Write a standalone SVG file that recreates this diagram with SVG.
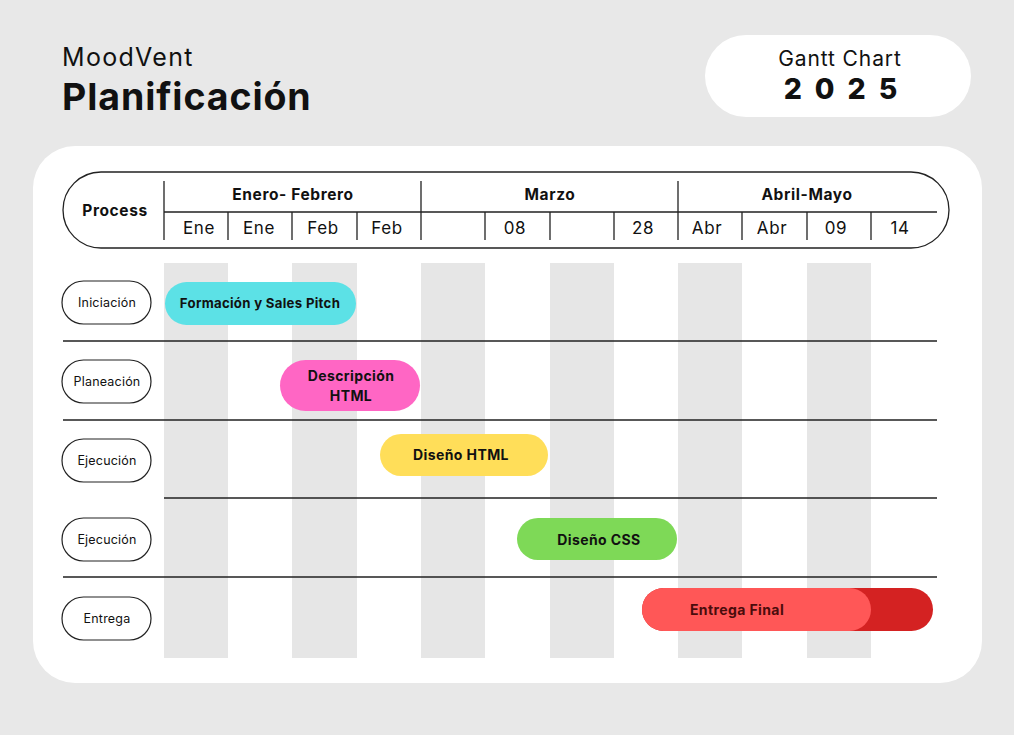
<svg xmlns="http://www.w3.org/2000/svg" width="1014" height="735" viewBox="0 0 1014 735">
<style>
text{font-family:Inter,"Open Sans","Liberation Sans",sans-serif;fill:#111}
.ln{stroke:#222;stroke-width:1.3;fill:none}
.stripe{fill:#e6e6e6}
.lbl{fill:#fff;stroke:#222;stroke-width:1.2}
.lt{font-size:12.5px;text-anchor:middle;letter-spacing:0.2px}
.sub{font-size:17px;text-anchor:middle;letter-spacing:0.6px}
.grp{font-size:15.5px;font-weight:700;text-anchor:middle;letter-spacing:0.6px}
.bt{font-size:14px;font-weight:700;text-anchor:middle;letter-spacing:0.4px}
</style>
<rect width="1014" height="735" fill="#e8e8e8"/>
<rect x="33" y="146" width="949" height="537" rx="42" fill="#fff"/>
<g id="title">
<text x="62" y="66" font-size="25" letter-spacing="1.3">MoodVent</text>
<text x="62" y="110" font-size="37.5" font-weight="700" letter-spacing="0.9">Planificación</text>
</g>
<g id="badge">
<rect x="705" y="35" width="266" height="82" rx="41" fill="#fff"/>
<text x="840" y="66" font-size="21" text-anchor="middle" letter-spacing="0.9">Gantt Chart</text>
<text x="847" y="99" font-size="28.5" font-weight="800" text-anchor="middle" letter-spacing="13">2025</text>
</g>
<g id="stripes">
<rect class="stripe" x="164" y="263" width="64" height="395"/>
<rect class="stripe" x="292" y="263" width="65" height="395"/>
<rect class="stripe" x="421" y="263" width="64" height="395"/>
<rect class="stripe" x="550" y="263" width="64" height="395"/>
<rect class="stripe" x="678" y="263" width="64" height="395"/>
<rect class="stripe" x="807" y="263" width="64" height="395"/>
</g>
<g id="header">
<rect x="63" y="172" width="886" height="76" rx="38" class="ln"/>
<path class="ln" d="M164 181V240M421 181V240M678 181V240M164 212H937M228 212V240M292 212V240M357 212V240M485 212V240M550 212V240M614 212V240M742 212V240M807 212V240M871 212V240"/>
<text x="115" y="216" font-size="15.5" font-weight="700" text-anchor="middle" letter-spacing="0.6">Process</text>
<text class="grp" x="293" y="200">Enero- Febrero</text>
<text class="grp" x="550" y="200">Marzo</text>
<text class="grp" x="807" y="200">Abril-Mayo</text>
<text class="sub" x="199" y="234">Ene</text>
<text class="sub" x="259" y="234">Ene</text>
<text class="sub" x="323" y="234">Feb</text>
<text class="sub" x="387" y="234">Feb</text>
<text class="sub" x="515" y="234">08</text>
<text class="sub" x="643" y="234">28</text>
<text class="sub" x="707" y="234">Abr</text>
<text class="sub" x="772" y="234">Abr</text>
<text class="sub" x="836" y="234">09</text>
<text class="sub" x="900" y="234">14</text>
</g>
<g id="connectors">
<path class="ln" d="M63 341H937M63 420H937M164 498H937M63 577H937"/>
</g>
<g id="row-iniciacion">
<rect class="lbl" x="62" y="281" width="89" height="43" rx="21.5"/>
<text class="lt" x="107" y="307">Iniciación</text>
</g>
<g id="row-planeacion">
<rect class="lbl" x="62" y="360" width="89" height="43" rx="21.5"/>
<text class="lt" x="107" y="386">Planeación</text>
</g>
<g id="row-ejecucion1">
<rect class="lbl" x="62" y="439" width="89" height="43" rx="21.5"/>
<text class="lt" x="107" y="465">Ejecución</text>
</g>
<g id="row-ejecucion2">
<rect class="lbl" x="62" y="518" width="89" height="43" rx="21.5"/>
<text class="lt" x="107" y="544">Ejecución</text>
</g>
<g id="row-entrega">
<rect class="lbl" x="62" y="597" width="89" height="43" rx="21.5"/>
<text class="lt" x="107" y="623">Entrega</text>
</g>
<g id="bar-formacion">
<rect x="165" y="282" width="191" height="43" rx="21.5" fill="#5ce1e6"/>
<text class="bt" x="260" y="308" style="font-size:13.2px;letter-spacing:0.3px">Formación y Sales Pitch</text>
</g>
<g id="bar-descripcion">
<rect x="280" y="360" width="140" height="51" rx="25.5" fill="#ff66c4"/>
<text class="bt" x="351" y="381">Descripción</text>
<text class="bt" x="351" y="401">HTML</text>
</g>
<g id="bar-disenohtml">
<rect x="380" y="434" width="168" height="42" rx="21" fill="#ffde59"/>
<text class="bt" x="461" y="460">Diseño HTML</text>
</g>
<g id="bar-disenocss">
<rect x="517" y="518" width="160" height="42" rx="21" fill="#7ed957"/>
<text class="bt" x="599" y="545">Diseño CSS</text>
</g>
<g id="bar-entrega">
<rect x="642" y="588" width="291" height="43" rx="21.5" fill="#d42222"/>
<rect x="642" y="588" width="229" height="43" rx="21.5" fill="#ff5757"/>
<text class="bt" x="737" y="615" style="fill:#4a0c0c">Entrega Final</text>
</g>
</svg>
